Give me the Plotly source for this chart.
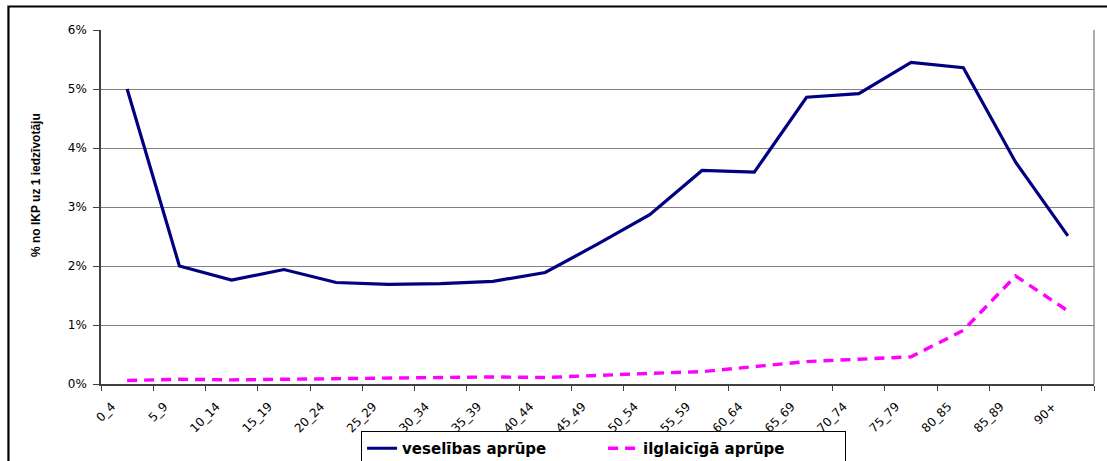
import plotly.graph_objects as go

# Age groups and spending as % of GDP per capita
age_groups = ["0_4", "5_9", "10_14", "15_19", "20_24", "25_29", "30_34", "35_39",
              "40_44", "45_49", "50_54", "55_59", "60_64", "65_69", "70_74",
              "75_79", "80_85", "85_89", "90+"]
health_care = [5.00, 2.00, 1.76, 1.94, 1.72, 1.69, 1.70, 1.74, 1.89, 2.37,
               2.87, 3.62, 3.59, 4.86, 4.92, 5.45, 5.36, 3.76, 2.51]
long_term_care = [0.06, 0.08, 0.07, 0.08, 0.10, 0.11, 0.11, 0.12, 0.11, 0.15,
                  0.18, 0.21, 0.29, 0.38, 0.42, 0.46, 0.91, 1.83, 1.24]
y_ticks = [0, 1, 2, 3, 4, 5, 6]

xpos = list(range(len(age_groups)))
label_pos = [i - 0.29 for i in xpos]

fig = go.Figure()
fig.add_trace(go.Scatter(
    x=xpos, y=health_care, mode="lines", name="veselības aprūpe",
    line=dict(color="#000080", width=3.2),
))
fig.add_trace(go.Scatter(
    x=xpos, y=long_term_care, mode="lines", name="ilglaicīgā aprūpe",
    line=dict(color="#FF00FF", width=3.4, dash="10px,7px"),
))

tick_font = dict(family="DejaVu Sans", size=12, color="#000000")

fig.update_xaxes(
    range=[-0.5, len(age_groups) - 0.5], automargin=False,
    tickmode="array", tickvals=label_pos, ticktext=age_groups,
    tickangle=-45, ticks="", tickfont=tick_font, ticklabelstandoff=9,
    showgrid=False, zeroline=False,
    showline=True, linecolor="#404040", linewidth=1.5,
    minor=dict(tickmode="linear", tick0=-0.5, dtick=1, ticks="outside",
               ticklen=5, tickwidth=1, tickcolor="#404040", showgrid=False),
)
fig.update_yaxes(
    range=[0, 6], automargin=False,
    tickmode="array", tickvals=y_ticks, ticktext=[f"{v}%" for v in y_ticks],
    ticks="outside", ticklen=6, tickcolor="#404040", tickwidth=1,
    tickfont=tick_font, ticklabelstandoff=4,
    showgrid=True, gridcolor="#808080", gridwidth=1,
    zeroline=False, showline=True, linecolor="#404040", linewidth=1.5,
)

# plot-area right edge and outer chart frame
fig.add_shape(type="line", xref="paper", yref="paper", x0=1, x1=1, y0=0, y1=1,
              line=dict(color="#909090", width=1.5))
fig.add_shape(type="rect", xref="paper", yref="paper",
              x0=-0.0932, x1=1.03, y0=-0.3, y1=1.0664,
              line=dict(color="#000000", width=2.2), fillcolor="rgba(0,0,0,0)")

fig.add_annotation(
    text="% no IKP uz 1 iedzīvotāju", xref="paper", yref="paper",
    x=-0.0745, y=0.562, textangle=-90, showarrow=False,
    font=dict(family="Liberation Sans", size=12, color="#000000", weight="bold"),
)

fig.update_layout(
    width=1107, height=461,
    margin=dict(l=101, r=13, t=30, b=77),
    paper_bgcolor="#ffffff", plot_bgcolor="#ffffff",
    showlegend=True,
    legend=dict(
        orientation="h", xanchor="left", yanchor="top",
        xref="container", yref="container",
        x=0.326, y=0.0655,
        bordercolor="#000000", borderwidth=1.2, bgcolor="#ffffff",
        font=dict(family="DejaVu Sans", size=15, color="#000000", weight="bold"),
        entrywidth=196, tracegroupgap=0, itemwidth=30,
    ),
)

fig.write_html("out.html")
